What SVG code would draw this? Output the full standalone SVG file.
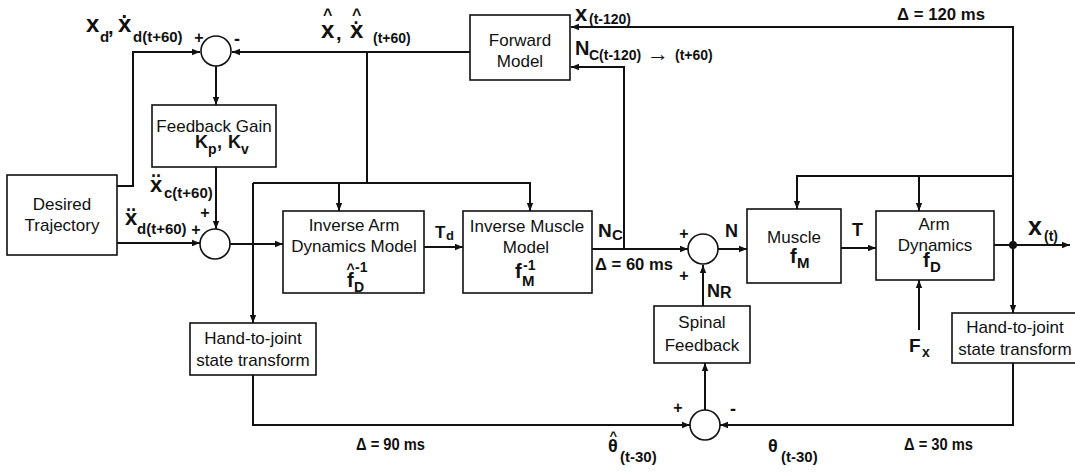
<svg xmlns="http://www.w3.org/2000/svg" width="1075" height="475" viewBox="0 0 1075 475">
<style>
.box{fill:#fff;stroke:#111;stroke-width:1.6}
.sum{fill:#fff;stroke:#111;stroke-width:1.6}
.ln{fill:none;stroke:#111;stroke-width:2}
.t{font-family:"Liberation Sans",Arial,sans-serif;font-size:17px;text-anchor:middle;fill:#111}
.b{font-family:"Liberation Sans",Arial,sans-serif;font-weight:bold;fill:#111}
.m{text-anchor:middle}
</style>
<defs>
<marker id="ah" viewBox="0 0 10 10" refX="10" refY="5" markerWidth="8" markerHeight="8" orient="auto" markerUnits="userSpaceOnUse"><path d="M0,1 L10,5 L0,9 z" fill="#111"/></marker>
</defs>
<rect width="1075" height="475" fill="#fff"/>

<g id="connectors">
<path class="ln" d="M117,186 H133 V52 H200" marker-end="url(#ah)"/>
<path class="ln" d="M470,52 H232" marker-end="url(#ah)"/>
<path class="ln" d="M216,66 V105" marker-end="url(#ah)"/>
<path class="ln" d="M216,167 V229" marker-end="url(#ah)"/>
<path class="ln" d="M117,243 H200" marker-end="url(#ah)"/>
<path class="ln" d="M230,244 H283" marker-end="url(#ah)"/>
<path class="ln" d="M367,52 V183"/>
<path class="ln" d="M253,183 V323" marker-end="url(#ah)"/>
<path class="ln" d="M253,183 H530 V211" marker-end="url(#ah)"/>
<path class="ln" d="M339,183 V211" marker-end="url(#ah)"/>
<path class="ln" d="M424,247 H463" marker-end="url(#ah)"/>
<path class="ln" d="M592,249 H688" marker-end="url(#ah)"/>
<path class="ln" d="M624,249 V67 H571" marker-end="url(#ah)"/>
<path class="ln" d="M718,249 H747" marker-end="url(#ah)"/>
<path class="ln" d="M841,248 H876" marker-end="url(#ah)"/>
<path class="ln" d="M994,245 H1070" marker-end="url(#ah)"/>
<path class="ln" d="M1013,245 V27 H571" marker-end="url(#ah)"/>
<path class="ln" d="M1013,176 H797 V209" marker-end="url(#ah)"/>
<path class="ln" d="M919,176 V211" marker-end="url(#ah)"/>
<path class="ln" d="M1013,245 V313" marker-end="url(#ah)"/>
<path class="ln" d="M919,330 V280" marker-end="url(#ah)"/>
<path class="ln" d="M703,306 V265" marker-end="url(#ah)"/>
<path class="ln" d="M705,410 V363" marker-end="url(#ah)"/>
<path class="ln" d="M253,375 V425 H690" marker-end="url(#ah)"/>
<path class="ln" d="M1013,363 V425 H720" marker-end="url(#ah)"/>
<circle cx="1013" cy="245" r="4" fill="#111"/>
</g>

<g id="sum1"><circle class="sum" cx="216" cy="51" r="15"/></g>
<g id="sum2"><circle class="sum" cx="215" cy="244" r="15"/></g>
<g id="sum3"><circle class="sum" cx="703" cy="249" r="15"/></g>
<g id="sum4"><circle class="sum" cx="705" cy="425" r="15"/></g>

<g id="desired-trajectory">
<rect class="box" x="7" y="175" width="110" height="80"/>
<text class="t" x="62" y="210">Desired</text>
<text class="t" x="62" y="231">Trajectory</text>
</g>
<g id="feedback-gain">
<rect class="box" x="152" y="105" width="124" height="62"/>
<text class="t" x="214" y="132">Feedback Gain</text>
<text class="b" font-size="18"><tspan x="195" y="148">K</tspan><tspan x="208" y="154" font-size="14">p</tspan><tspan x="217" y="148">,</tspan><tspan x="228" y="148">K</tspan><tspan x="241" y="154" font-size="14">v</tspan></text>
</g>
<g id="forward-model">
<rect class="box" x="470" y="15" width="100" height="65"/>
<text class="t" x="520" y="46" font-size="18">Forward</text>
<text class="t" x="520" y="67" font-size="18">Model</text>
</g>
<g id="inverse-arm">
<rect class="box" x="283" y="211" width="141" height="82"/>
<text class="t" x="354" y="231">Inverse Arm</text>
<text class="t" x="354" y="252">Dynamics Model</text>
<text class="b" font-size="14"><tspan x="346.5" y="274">^</tspan><tspan x="347" y="287" font-size="20">f</tspan><tspan x="355" y="272">-1</tspan><tspan x="354" y="292">D</tspan></text>
</g>
<g id="inverse-muscle">
<rect class="box" x="463" y="211" width="129" height="82"/>
<text class="t" x="527" y="232">Inverse Muscle</text>
<text class="t" x="526" y="253">Model</text>
<text class="b" font-size="14"><tspan x="515" y="278" font-size="20">f</tspan><tspan x="523" y="270">-1</tspan><tspan x="522" y="286" font-size="15">M</tspan></text>
</g>
<g id="muscle">
<rect class="box" x="747" y="209" width="94" height="74"/>
<text class="t" x="794" y="243" font-size="18">Muscle</text>
<text class="b" font-size="20"><tspan x="790" y="263">f</tspan><tspan x="797" y="268" font-size="15">M</tspan></text>
</g>
<g id="arm-dynamics">
<rect class="box" x="876" y="211" width="118" height="69"/>
<text class="t" x="934" y="230">Arm</text>
<text class="t" x="935" y="251">Dynamics</text>
<text class="b" font-size="20"><tspan x="923" y="267">f</tspan><tspan x="930" y="272" font-size="15">D</tspan></text>
</g>
<g id="spinal-feedback">
<rect class="box" x="654" y="306" width="96" height="57"/>
<text class="t" x="702" y="328">Spinal</text>
<text class="t" x="702" y="351">Feedback</text>
</g>
<g id="hand-to-joint-left">
<rect class="box" x="190" y="323" width="126" height="52"/>
<text class="t" x="253" y="344">Hand-to-joint</text>
<text class="t" x="253" y="366">state transform</text>
</g>
<g id="hand-to-joint-right">
<rect class="box" x="952" y="313" width="128" height="50"/>
<text class="t" x="1015" y="333">Hand-to-joint</text>
<text class="t" x="1015" y="355">state transform</text>
</g>

<g id="labels">
<text class="b" font-size="24"><tspan x="86" y="32">x</tspan><tspan x="100" y="42" font-size="15">d</tspan><tspan x="108" y="34" font-size="20">,</tspan><tspan x="121.5" y="18" font-size="20">.</tspan><tspan x="118" y="32">x</tspan><tspan x="133" y="42" font-size="15">d(t+60)</tspan></text>
<text class="b m" x="199" y="43" font-size="16">+</text>
<text class="b m" x="237" y="45" font-size="18">-</text>

<text class="b" font-size="24"><tspan x="323" y="20" font-size="16">^</tspan><tspan x="321" y="38">x</tspan><tspan x="336" y="40" font-size="20">,</tspan><tspan x="352" y="20" font-size="16">^</tspan><tspan x="353.5" y="24" font-size="18">.</tspan><tspan x="350" y="38">x</tspan><tspan x="373" y="43" font-size="14">(t+60)</tspan></text>

<text class="b" font-size="22"><tspan x="151" y="177" font-size="18">..</tspan><tspan x="150" y="192">x</tspan><tspan x="164" y="198" font-size="15">c(t+60)</tspan></text>
<text class="b m" x="205" y="218" font-size="16">+</text>
<text class="b" font-size="22"><tspan x="126" y="211" font-size="18">..</tspan><tspan x="125" y="225">x</tspan><tspan x="137" y="234" font-size="15">d(t+60)</tspan></text>
<text class="b m" x="196" y="235" font-size="16">+</text>

<text class="b" font-size="17"><tspan x="435" y="238">T</tspan><tspan x="446" y="240" font-size="13">d</tspan></text>
<text class="b" font-size="19"><tspan x="598" y="237">N</tspan><tspan x="612" y="240" font-size="15">C</tspan></text>
<text class="b" x="595" y="270" font-size="17" textLength="78" lengthAdjust="spacingAndGlyphs">Δ = 60 ms</text>

<text class="b m" x="684" y="239" font-size="16">+</text>
<text class="b m" x="684" y="281" font-size="16">+</text>
<text class="b" x="725" y="237" font-size="18">N</text>
<text class="b" font-size="18"><tspan x="707" y="297">N</tspan><tspan x="720" y="298" font-size="16">R</tspan></text>
<text class="b" x="852" y="236" font-size="18">T</text>
<text class="b" font-size="25"><tspan x="1028" y="235">x</tspan><tspan x="1044" y="241" font-size="14">(t)</tspan></text>

<text class="b" font-size="22"><tspan x="575" y="21">x</tspan><tspan x="589" y="24" font-size="14">(t-120)</tspan></text>
<text class="b" font-size="14"><tspan x="575" y="55" font-size="20">N</tspan><tspan x="589" y="60">C(t-120)</tspan><tspan x="647" y="61" font-size="22">→</tspan><tspan x="675" y="60">(t+60)</tspan></text>
<text class="b" x="897" y="20" font-size="17" textLength="88" lengthAdjust="spacingAndGlyphs">Δ = 120 ms</text>

<text class="b" font-size="19"><tspan x="909" y="352">F</tspan><tspan x="922" y="357" font-size="14">x</tspan></text>

<text class="b m" x="678" y="413" font-size="16">+</text>
<text class="b m" x="733" y="415" font-size="18">-</text>
<text class="b" font-size="18"><tspan x="609.5" y="440" font-size="13">^</tspan><tspan x="608" y="452">θ</tspan><tspan x="620" y="462" font-size="15">(t-30)</tspan></text>
<text class="b" font-size="18"><tspan x="768" y="452">θ</tspan><tspan x="781" y="462" font-size="15">(t-30)</tspan></text>
<text class="b" x="356" y="450" font-size="16" textLength="69" lengthAdjust="spacingAndGlyphs">Δ = 90 ms</text>
<text class="b" x="904" y="450" font-size="16" textLength="69" lengthAdjust="spacingAndGlyphs">Δ = 30 ms</text>
</g>
</svg>
